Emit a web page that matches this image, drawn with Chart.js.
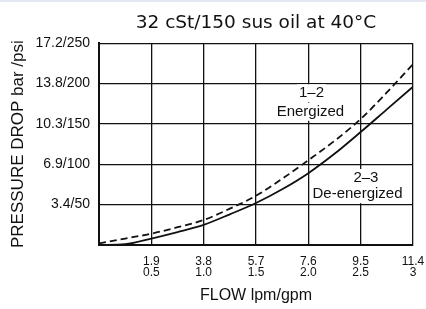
<!DOCTYPE html>
<html>
<head>
<meta charset="utf-8">
<script src="https://cdn.jsdelivr.net/npm/chart.js@4/dist/chart.umd.min.js"></script>
<style>
  html, body { margin: 0; padding: 0; background: #fff; }
  #wrap { width: 426px; height: 309px; position: relative; }
</style>
</head>
<body>
<div id="wrap"><canvas id="chart"></canvas></div>
<script>
// flow in gpm (x), pressure drop in psi (y)
const flowGpm = [0, 0.25, 0.5, 0.75, 1.0, 1.25, 1.5, 1.75, 2.0, 2.25, 2.5, 2.75, 3.0];
const energized = [2, 8, 14, 22, 31, 45, 61, 82, 105, 129, 156, 189, 224];
const deEnergized = [0, 1, 8, 16, 25, 38, 52, 69, 89, 113, 140, 168, 196];

const xTicksLpm = ["", "1.9", "3.8", "5.7", "7.6", "9.5", "11.4"];
const xTicksGpm = ["", "0.5", "1.0", "1.5", "2.0", "2.5", "3"];
const yTicks = ["", "3.4/50", "6.9/100", "10.3/150", "13.8/200", "17.2/250"];

const curveLabels = [
  { text: "1\u20132", x: 2.03, y: 188 },
  { text: "Energized", x: 2.02, y: 165 },
  { text: "2\u20133", x: 2.55, y: 83 },
  { text: "De-energized", x: 2.47, y: 63 },
];

const textFont = "'Liberation Sans', Arial, sans-serif";
const ink = "#111";

const toPoints = (ys) => flowGpm.map((x, i) => ({ x, y: ys[i] }));

const backdrop = {
  id: "backdrop",
  beforeDraw(chart) {
    const { ctx, width, height } = chart;
    ctx.save();
    ctx.fillStyle = "#fff";
    ctx.fillRect(0, 0, width, height);
    ctx.fillStyle = "#e5e7f3";
    ctx.fillRect(0, 0, width, 2);
    ctx.restore();
  },
};

const curveText = {
  id: "curveText",
  beforeDatasetsDraw(chart) {
    const { ctx, scales } = chart;
    ctx.save();
    ctx.font = `15px ${textFont}`;
    ctx.textAlign = "center";
    ctx.textBaseline = "middle";
    curveLabels.forEach((lab) => {
      const cx = scales.x.getPixelForValue(lab.x);
      const cy = scales.y.getPixelForValue(lab.y);
      const w = ctx.measureText(lab.text).width + 4;
      ctx.fillStyle = "#fff";
      ctx.fillRect(cx - w / 2, cy - 9, w, 18);
      ctx.fillStyle = ink;
      ctx.fillText(lab.text, cx, cy);
    });
    ctx.restore();
  },
};

new Chart(document.getElementById("chart"), {
  type: "line",
  data: {
    datasets: [
      {
        label: "1-2 Energized",
        data: toPoints(energized),
        borderColor: ink,
        borderWidth: 1.8,
        borderDash: [7, 4],
        pointRadius: 0,
        cubicInterpolationMode: "monotone",
        fill: false,
      },
      {
        label: "2-3 De-energized",
        data: toPoints(deEnergized),
        borderColor: ink,
        borderWidth: 1.8,
        pointRadius: 0,
        cubicInterpolationMode: "monotone",
        fill: false,
      },
    ],
  },
  options: {
    responsive: true,
    maintainAspectRatio: false,
    animation: false,
    layout: { padding: { top: 0, right: 13, left: 0, bottom: 0 } },
    plugins: {
      legend: { display: false },
      tooltip: { enabled: false },
      title: {
        display: true,
        text: "32 cSt/150 sus oil at 40\u00b0C",
        color: ink,
        fullSize: false,
        font: { family: "'DejaVu Sans', sans-serif", size: 18.5, weight: "normal" },
        padding: { top: 12, bottom: 9 },
      },
    },
    scales: {
      x: {
        type: "linear",
        min: 0,
        max: 3,
        afterFit: (scale) => {
          scale.height = 64;
          scale.paddingLeft = 0;
          scale.paddingRight = 0;
        },
        ticks: {
          stepSize: 0.5,
          color: ink,
          padding: 11,
          maxRotation: 0,
          autoSkip: false,
          font: { family: textFont, size: 12, lineHeight: 0.9 },
          callback: (v, i) => (i === 0 ? "" : [xTicksLpm[i], xTicksGpm[i]]),
        },
        grid: { color: ink, lineWidth: 1.3, drawTicks: false },
        border: { color: ink, width: 2 },
        title: {
          display: true,
          text: "FLOW lpm/gpm",
          color: ink,
          font: { family: textFont, size: 16 },
          padding: { bottom: 4 },
        },
      },
      y: {
        min: 0,
        max: 250,
        afterFit: (scale) => { scale.width = 99; },
        ticks: {
          stepSize: 50,
          color: ink,
          padding: 9,
          font: { family: textFont, size: 14 },
          callback: (v, i) => yTicks[i],
        },
        grid: { color: ink, lineWidth: 1.3, drawTicks: false },
        border: { color: ink, width: 2 },
        title: {
          display: true,
          text: "PRESSURE DROP bar /psi",
          color: ink,
          font: { family: textFont, size: 17 },
          padding: { top: 8 },
        },
      },
    },
  },
  plugins: [backdrop, curveText],
});
</script>
</body>
</html>
